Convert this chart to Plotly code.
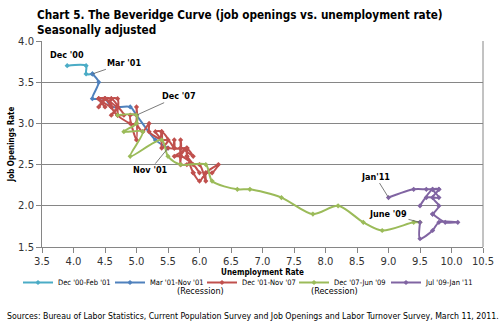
import plotly.graph_objects as go

# Unemployment rate (x) and job openings rate (y), monthly, by period.
# Each period starts from the last month of the previous one so the path is continuous.
p1_name = "Dec '00-Feb '01"
p1_u = [3.9, 4.2, 4.2, 4.3]
p1_v = [3.7, 3.7, 3.6, 3.6]

p2_name = "Mar '01-Nov '01"
p2_u = [4.3, 4.4, 4.3, 4.5, 4.6, 4.9, 5.0, 5.3, 5.5]
p2_v = [3.6, 3.5, 3.3, 3.3, 3.2, 3.2, 3.1, 2.8, 2.7]

p3_name = "Dec '01-Nov '07"
p3_u = [5.5,
        5.7, 5.7, 5.7, 5.7, 5.9, 5.8, 5.8, 5.8, 5.7, 5.7, 5.7, 5.9, 6.0,
        5.8, 5.9, 5.9, 6.0, 6.1, 6.3, 6.2, 6.1, 6.1, 6.0, 5.8, 5.7,
        5.7, 5.6, 5.8, 5.6, 5.6, 5.6, 5.5, 5.4, 5.4, 5.5, 5.4, 5.4,
        5.3, 5.4, 5.2, 5.2, 5.1, 5.0, 5.0, 4.9, 5.0, 5.0, 5.0, 4.9,
        4.7, 4.8, 4.7, 4.7, 4.6, 4.6, 4.7, 4.7, 4.5, 4.4, 4.5, 4.4,
        4.6, 4.5, 4.4, 4.5, 4.4, 4.6, 4.7, 4.6, 4.7, 4.7, 4.7]
p3_v = [2.7,
        2.7, 2.8, 2.6, 2.7, 2.6, 2.7, 2.6, 2.7, 2.6, 2.5, 2.6, 2.5, 2.4,
        2.6, 2.4, 2.4, 2.3, 2.4, 2.5, 2.4, 2.4, 2.3, 2.5, 2.5, 2.5,
        2.6, 2.6, 2.7, 2.7, 2.8, 2.7, 2.8, 2.8, 2.9, 2.8, 2.7, 2.9,
        2.9, 2.8, 2.9, 3.0, 2.9, 3.0, 3.1, 3.1, 2.8, 3.2, 3.0, 3.0,
        3.1, 3.1, 3.2, 3.1, 3.2, 3.3, 3.3, 3.2, 3.3, 3.2, 3.3, 3.3,
        3.2, 3.3, 3.3, 3.2, 3.3, 3.3, 3.2, 3.1, 3.2, 3.2, 3.1]

p4_name = "Dec '07-Jun '09"
p4_u = [4.7, 5.0, 5.0, 4.8, 5.1, 4.9, 5.4, 5.5, 5.7, 6.1, 6.2, 6.6, 6.8, 7.3,
        7.8, 8.2, 8.6, 8.9, 9.4, 9.5]
p4_v = [3.1, 3.1, 3.0, 2.9, 2.9, 2.6, 2.8, 2.6, 2.5, 2.5, 2.3, 2.2, 2.2, 2.1,
        1.9, 2.0, 1.8, 1.7, 1.8, 1.8]

p5_name = "Jul '09-Jan '11"
p5_u = [9.5, 9.5, 9.7, 9.8, 10.1, 9.9, 9.7, 9.7, 9.8, 9.7, 9.8, 9.7, 9.5,
        9.6, 9.8, 9.7, 9.8, 9.6, 9.4, 9.0]
p5_v = [1.8, 1.6, 1.7, 1.8, 1.8, 1.8, 1.9, 1.9, 2.0, 2.1, 2.2, 2.2, 2.0,
        2.1, 2.1, 2.2, 2.2, 2.2, 2.2, 2.1]

x_ticks = [3.5, 4.0, 4.5, 5.0, 5.5, 6.0, 6.5, 7.0, 7.5, 8.0, 8.5, 9.0, 9.5, 10.0, 10.5]
y_ticks = [1.5, 2.0, 2.5, 3.0, 3.5, 4.0]

series = [
    (p1_name, p1_u, p1_v, "#4BACC6"),
    (p2_name, p2_u, p2_v, "#4F81BD"),
    (p3_name, p3_u, p3_v, "#C0504D"),
    (p4_name, p4_u, p4_v, "#9BBB59"),
    (p5_name, p5_u, p5_v, "#8064A2"),
]

W, H = 500, 334
ml, mr, mt, mb = 42, 17, 41, 87
pw, ph = W - ml - mr, H - mt - mb


def px(x):
    """Horizontal page pixel -> paper fraction."""
    return (x - ml) / pw


def py(y):
    """Vertical page pixel (from top) -> paper fraction."""
    return (H - mb - y) / ph


fig = go.Figure()
for name, u, v, color in series:
    fig.add_trace(go.Scatter(
        x=u, y=v, name=name, mode="lines+markers",
        line=dict(color=color, width=2, shape="spline", smoothing=0.8),
        marker=dict(symbol="diamond", size=4, color=color),
    ))

label_font = dict(family="DejaVu Sans Condensed", size=9, color="#000000")
notes = [
    # text, x, y, ax, ay
    ("Mar '01", p2_u[0], p2_v[0], 32, -11),
    ("Dec '07", p4_u[1], p4_v[1], 42, -19),
    ("Nov '01", p2_u[-1], p2_v[-1], -18, 22),
    ("Jan'11", p5_u[-1], p5_v[-1], -13, -21),
    ("June '09", p4_u[-1], p4_v[-1], -32, -8),
]
annotations = [
    dict(text="<b>Dec '00</b>", x=p1_u[0], y=p1_v[0], xref="x", yref="y",
         showarrow=False, yshift=11, font=label_font),
]
for text, x, y, ax, ay in notes:
    annotations.append(dict(
        text=f"<b>{text}</b>", x=x, y=y, xref="x", yref="y", ax=ax, ay=ay,
        showarrow=True, arrowhead=0, arrowwidth=0.8, arrowcolor="#595959",
        standoff=1, font=label_font,
    ))

title_font = dict(family="DejaVu Sans Condensed", size=11.7, color="#000000")
small = dict(family="DejaVu Sans Condensed", size=9, color="#000000")
annotations += [
    dict(text="<b>Chart 5. The Beveridge Curve (job openings vs. unemployment rate)</b>",
         x=px(35), y=py(6), xanchor="left", yanchor="top", font=title_font),
    dict(text="<b>Seasonally adjusted</b>",
         x=px(35), y=py(21), xanchor="left", yanchor="top", font=title_font),
    dict(text="(Recession)", x=px(175), y=py(298), font=small),
    dict(text="(Recession)", x=px(360), y=py(298), font=small),
    dict(text="Sources: Bureau of Labor Statistics, Current Population Survey and Job Openings "
              "and Labor Turnover Survey, March 11, 2011.",
         x=px(5), y=py(323), xanchor="left",
         font=dict(family="DejaVu Sans Condensed", size=8.7, color="#000000")),
]
for a in annotations[len(notes) + 1:]:
    a.update(xref="paper", yref="paper", showarrow=False)

fig.update_layout(
    width=W, height=H,
    margin=dict(l=ml, r=mr, t=mt, b=mb, autoexpand=False),
    paper_bgcolor="white", plot_bgcolor="white",
    font=dict(family="DejaVu Sans", color="#000000"),
    xaxis=dict(
        range=[3.5, 10.5], tickvals=x_ticks, ticktext=[f"{t:.1f}" for t in x_ticks],
        showgrid=False, zeroline=False, showline=True, linecolor="#868686", linewidth=1,
        ticks="outside", ticklen=5, tickcolor="#868686", automargin=False,
        tickfont=dict(family="DejaVu Sans", size=10, color="#333333"),
        title=dict(text="<b>Unemployment Rate</b>", standoff=3,
                   font=dict(family="DejaVu Sans Condensed", size=8, color="#000000")),
    ),
    yaxis=dict(
        range=[1.5, 4.0], tickvals=y_ticks, ticktext=[f"{t:.1f}" for t in y_ticks],
        showgrid=True, gridcolor="#868686", gridwidth=1, zeroline=False,
        showline=True, linecolor="#868686", linewidth=1,
        ticks="outside", ticklen=5, tickcolor="#868686", automargin=False,
        tickfont=dict(family="DejaVu Sans", size=10, color="#333333"),
        title=dict(text="<b>Job Openings Rate</b>", standoff=2,
                   font=dict(family="DejaVu Sans Condensed", size=8, color="#000000")),
    ),
    legend=dict(
        orientation="h", x=px(18), xanchor="left", y=py(268), yanchor="top",
        entrywidth=47, entrywidthmode="pixels", itemwidth=30,
        font=dict(family="DejaVu Sans Condensed", size=7.5, color="#000000"),
        bgcolor="rgba(0,0,0,0)",
    ),
    annotations=annotations,
    shapes=[dict(type="line", xref="paper", yref="paper", x0=1, x1=1, y0=0, y1=1,
                 line=dict(color="#868686", width=1))],
)

fig.write_html("out.html")
